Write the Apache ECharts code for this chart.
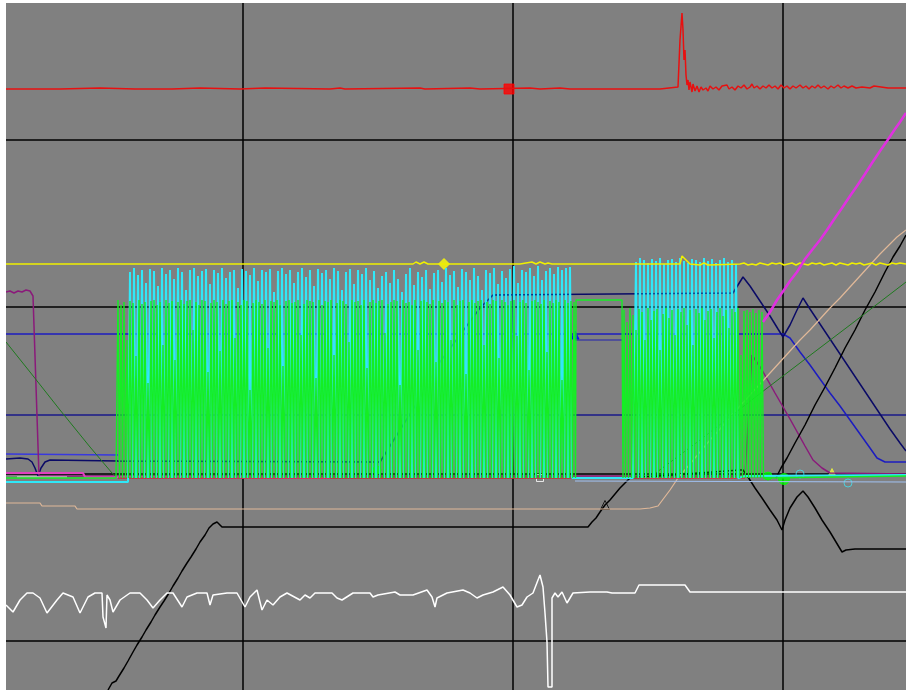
<!DOCTYPE html>
<html>
<head>
<meta charset="utf-8">
<script src="https://cdn.jsdelivr.net/npm/echarts@6/dist/echarts.min.js"></script>
<style>
  html, body { margin: 0; padding: 0; background: #fff; }
  #chart-container1 { width: 906px; height: 690px; }
</style>
</head>
<body>
<div id="chart-container1"></div>
<script>
// trace data: [sample, level] pairs (level axis runs downward like the scope screen)
const redTrace = [[33,116],[87,116],[127,115],[162,116],[199,116],[227,115],[267,116],[292,115],[357,116],[367,115],[372,116],[447,115],[452,116],[497,115],[507,116],[557,115],[567,116],[587,115],[597,116],[687,116],[688,114],[705,114],[707,67],[709,40],[710,57],[711,87],[712,77],[713,102],[714,112],[715,107],[716,117],[717,109],[719,119],[720,111],[722,118],[724,113],[726,119],[728,114],[730,117],[733,115],[735,118],[737,113],[740,116],[743,114],[746,117],[749,113],[751,115],[754,112],[756,116],[759,114],[762,117],[765,113],[768,115],[771,112],[774,116],[777,114],[779,111],[781,115],[784,113],[787,116],[790,113],[793,115],[796,112],[799,115],[802,113],[805,116],[808,112],[811,115],[814,113],[817,116],[820,113],[823,115],[827,112],[830,115],[833,113],[836,116],[839,113],[842,115],[845,112],[848,115],[851,113],[855,116],[858,113],[861,115],[865,112],[868,115],[871,113],[875,115],[879,113],[883,115],[889,114],[897,115],[901,113],[903,115],[915,115],[917,113],[919,115],[933,115]];

const yellowTrace = [[33,291],[137,291],[139,290],[142,291],[367,291],[369,289],[372,291],[440,291],[443,289],[447,291],[451,289],[455,291],[547,291],[559,289],[563,291],[567,289],[572,291],[575,290],[579,291],[707,291],[709,283],[711,281],[713,287],[715,285],[717,291],[727,292],[731,290],[735,292],[767,291],[771,290],[775,292],[779,291],[783,292],[787,290],[791,291],[795,292],[799,290],[803,291],[807,290],[811,292],[815,291],[819,290],[823,292],[827,290],[831,291],[835,292],[839,290],[843,291],[847,290],[851,292],[855,291],[859,290],[863,292],[867,290],[871,291],[875,292],[879,290],[883,291],[887,290],[891,292],[895,291],[899,290],[903,292],[907,290],[911,291],[915,292],[919,290],[923,291],[927,290],[933,291]];

// burst peaks, one per cycle
const cyanTops1 = [299,295,302,297,310,296,298,313,295,301, 297,306,295,299,317,297,295,303,298,296, 311,297,300,295,305,299,297,315,296,298, 302,295,308,297,299,296,319,298,295,301, 297,310,299,295,304,297,313,296,300,297, 306,295,298,317,299,296,311,297,301,295, 307,298,315,303,299,310,297,306,319,301, 295,312,299,304,297,316,300,297,309,295, 302,298,314,296,299,307,295,303,317,297, 300,295,311,298,305,296,293,310,297,299, 295,303,293,307,298,295,301,294,297,295,294];
const cyanTops2 = [289,285,287,290,286,288,285,291,287,286,289,285,288,290,286,287,289,285,288,286,290,287,285,289,287,291];
const greenTops1 = [327,332,329,367,328,330,383,327,331,329, 410,328,327,332,329,372,327,330,328,387, 329,327,331,328,327,357,329,332,327,328, 399,330,327,329,378,327,331,328,327,365, 329,332,327,328,417,330,327,329,331,327, 375,328,329,327,332,393,328,327,330,329, 327,362,331,327,328,329,405,327,332,328, 329,327,382,330,327,328,331,369,327,329, 328,332,327,395,329,327,330,328,327,360, 331,329,327,328,412,327,330,329,332,327, 377,328,327,329,331,327,389,328,330,327, 329,367,327,332,328,327,401,329,327,330, 328,327,372,329,331,327,328,385,327,329, 332,328,327,363,329,327,330,397,328,327, 329,331,327,379,328,330,327,329,407,327, 330,328,329];
const greenTops2 = [337,349,335,342,357,336,339,367,335,347,338,336,377,341,335,345,337,362,336,339,335,352,337,372,336,340,335,347,338,336,365,339,335,343,337,355,336,339,335,382,338,337,339,336,340,337,339];

const cyanPre = [[33,509],[155,509]];
const cyanMid = [[627,505],[660,505]];
const cyanPost = [[772,503],[933,502]];
const greenPre = [[33,505],[143,505]];
const greenMid = [[603,327],[649,327],[650,505]];
const greenPost = [[792,503],[933,503]];
const burstLow = 505;

const blue415 = [[33,442],[933,442]];
const blue334 = [[33,361],[602,361],[810,361],[817,365],[827,379],[837,392],[847,406],[857,420],[867,433],[877,447],[887,461],[897,475],[904,485],[912,489],[933,489]];
const blueShort = [[602,367],[650,367]];
const blueLow = [[33,481],[145,482]];
const navyTrace = [[33,486],[47,485],[55,486],[59,489],[62,495],[65,503],[68,495],[72,489],[77,487],[145,488],[407,489],[427,457],[447,425],[467,389],[487,362],[507,335],[520,322],[760,320],[765,312],[770,304],[777,313],[787,328],[797,343],[805,356],[810,364],[817,352],[824,337],[830,325],[837,336],[847,351],[857,366],[867,381],[877,396],[887,411],[897,426],[907,441],[917,456],[927,470],[933,478]];
const purpleTrace = [[33,319],[37,318],[41,320],[45,318],[49,319],[53,317],[57,318],[59,317],[60,323],[66,503],[107,503],[772,503],[779,382],[789,397],[802,420],[817,446],[832,473],[840,487],[849,495],[857,500],[933,501]];
const magentaTrace = [[790,349],[797,339],[804,327],[811,317],[817,308],[824,299],[832,286],[839,277],[847,267],[854,257],[862,245],[869,235],[877,223],[884,213],[892,201],[899,190],[907,178],[914,168],[922,156],[927,149],[933,140]];
const tanTrace = [[33,530],[67,530],[69,533],[102,533],[104,536],[667,536],[677,535],[685,533],[691,525],[697,517],[705,505],[717,491],[727,479],[737,467],[747,456],[757,444],[767,433],[777,422],[787,411],[797,400],[807,389],[817,378],[827,367],[837,357],[847,346],[857,335],[867,325],[877,314],[887,303],[897,292],[907,281],[917,271],[924,264],[933,257]];
const darkGreenTrace = [[33,369],[57,399],[87,437],[117,474],[139,500],[145,505],[676,505],[727,467],[789,419],[827,390],[877,352],[933,309]];
const blackTraceA = [[135,717],[139,710],[143,708],[146,703],[151,695],[155,688],[160,679],[164,672],[169,664],[173,657],[178,649],[182,642],[187,634],[191,628],[196,620],[200,613],[205,605],[209,598],[214,590],[218,584],[223,576],[227,569],[232,562],[236,555],[240,551],[244,549],[249,554],[615,554],[619,549],[623,545],[627,539],[632,532],[637,527],[642,521],[647,515],[652,510],[657,505],[767,497],[770,497],[775,504],[782,515],[789,525],[797,537],[804,547],[809,557],[812,547],[817,535],[824,524],[830,518],[835,524],[842,535],[849,547],[857,559],[863,569],[869,579],[873,577],[882,576],[933,576]];
const blackTraceB = [[803,505],[808,495],[814,485],[822,470],[832,452],[842,432],[852,414],[862,395],[872,375],[882,357],[892,337],[902,319],[912,299],[920,284],[927,273],[933,262]];
const whiteTrace = [[33,632],[40,639],[47,627],[54,620],[60,620],[67,625],[74,640],[84,627],[90,620],[100,624],[107,640],[115,624],[122,620],[129,620],[130,644],[133,655],[134,622],[137,627],[140,639],[147,627],[157,620],[167,620],[174,627],[180,635],[187,627],[194,620],[200,620],[209,634],[214,624],[224,620],[234,620],[237,632],[240,622],[254,620],[264,620],[272,634],[277,624],[284,617],[289,637],[294,627],[300,632],[307,624],[314,620],[327,627],[332,622],[337,625],[342,620],[359,620],[364,625],[369,627],[380,620],[397,620],[400,624],[405,622],[422,619],[427,622],[440,622],[454,617],[459,624],[462,634],[464,625],[474,620],[490,617],[497,620],[504,625],[510,622],[520,619],[530,614],[537,622],[544,634],[549,632],[554,624],[560,620],[565,607],[567,602],[570,614],[572,640],[574,669],[575,714],[579,714],[579,625],[582,620],[585,624],[589,619],[594,630],[600,620],[617,619],[634,619],[635,617],[639,620],[662,620],[666,612],[712,612],[717,619],[933,619]];
const crimsonBase = [[145,505],[772,505]];
const pinkBase = [[33,500],[110,500],[112,504],[357,505]];
const whiteBase = [[44,504],[94,504]];
const paleBlueBase = [[602,508],[933,509]];

// marker positions
const redSquare = [[536,116]];
const yellowDiamond = [[471,291]];
const blueTriangle = [[602,362]];
const blackTriangle = [[632,532]];
const greenDots = [[404,497],[795,503]];
const greenBigDot = [[811,506]];
const cyanRings = [[827,501],[875,510]];
const limeTriangle = [[859,499]];
const whiteSquare = [[567,505]];

function burst(start, step, tops, low) {
  const pts = [];
  tops.forEach((t, i) => {
    pts.push([start + i * step, t]);
    pts.push([start + i * step + step / 2, low]);
  });
  return pts;
}

const cyanTrace = [].concat(cyanPre, burst(157, 4, cyanTops1, burstLow), cyanMid, burst(663, 4, cyanTops2, burstLow), cyanPost);
const greenTrace = [].concat(greenPre, burst(145, 3, greenTops1, burstLow), greenMid, burst(651, 3, greenTops2, burstLow), greenPost);

function trace(data, color, width) {
  return {
    type: "line",
    data: data,
    symbol: "none",
    silent: true,
    lineStyle: { color: color, width: width },
  };
}

function marker(data, symbol, size, fill, border) {
  return {
    type: "scatter",
    data: data,
    symbol: symbol,
    symbolSize: size,
    silent: true,
    itemStyle: { color: fill, borderColor: border || fill, borderWidth: 1 },
  };
}

let dom = document.getElementById("chart-container1");
let myChart = echarts.init(dom, null, { renderer: "canvas" });

let option = {
  backgroundColor: "#808080",
  animation: false,
  grid: { left: -27, right: -17, top: -27, bottom: -23, outerBoundsMode: "none", containLabel: false },
  xAxis: {
    type: "value",
    min: 0,
    max: 950,
    interval: 270,
    axisLine: { show: false },
    axisTick: { show: false },
    axisLabel: { show: false },
    splitLine: { show: true, lineStyle: { color: "#000", width: 1.5 } },
  },
  yAxis: {
    type: "value",
    inverse: true,
    min: 0,
    max: 740,
    interval: 167,
    axisLine: { show: false },
    axisTick: { show: false },
    axisLabel: { show: false },
    splitLine: { show: true, lineStyle: { color: "#000", width: 1.5 } },
  },
  series: [
    trace(blue415, "#1a1a8a", 1.5),
    trace(blue334, "#1c1cc0", 1.5),
    trace(blueShort, "#2020b0", 1),
    trace(blueLow, "#3838e0", 1.5),
    trace(navyTrace, "#0a0a66", 1.5),
    trace(purpleTrace, "#8a1a7a", 1.5),
    trace(blackTraceA, "#000", 1.5),
    trace(blackTraceB, "#000", 1.5),
    trace(tanTrace, "#e0b898", 1.2),
    trace(darkGreenTrace, "#1e7a1e", 1),
    trace(whiteTrace, "#ffffff", 1.5),
    trace(pinkBase, "#e040c0", 2),
    trace(whiteBase, "#f0f0f0", 1.2),
    trace(crimsonBase, "#c83048", 1.5),
    trace(paleBlueBase, "#a0c0f0", 1.2),
    trace(cyanTrace, "#30e8f8", 2),
    trace(greenTrace, "#14ee24", 1.4),
    trace(yellowTrace, "#f0f000", 1.5),
    trace(redTrace, "#e81010", 1.5),
    trace(magentaTrace, "#e030e0", 2.5),
    marker(redSquare, "rect", 10, "#ff0000"),
    marker(yellowDiamond, "diamond", 11, "#ffff00"),
    marker(blueTriangle, "triangle", 8, "#0000ff"),
    marker(blackTriangle, "triangle", 9, "transparent", "#000"),
    marker(greenDots, "circle", 8, "#00ff00"),
    marker(greenBigDot, "circle", 11, "#00ff00"),
    marker(cyanRings, "circle", 8, "transparent", "#40e0f0"),
    marker(limeTriangle, "triangle", 7, "#e8f040"),
    marker(whiteSquare, "rect", 7, "transparent", "#ffffff"),
  ],
  graphic: [
    { type: "rect", z: 100, shape: { x: 0, y: 0, width: 6, height: 690 }, style: { fill: "#fff" } },
    { type: "rect", z: 100, shape: { x: 0, y: 0, width: 906, height: 3 }, style: { fill: "#fff" } },
  ],
};

if (option && typeof option === "object") {
  myChart.setOption(option);
}

window.addEventListener("resize", myChart.resize);
</script>
</body>
</html>
